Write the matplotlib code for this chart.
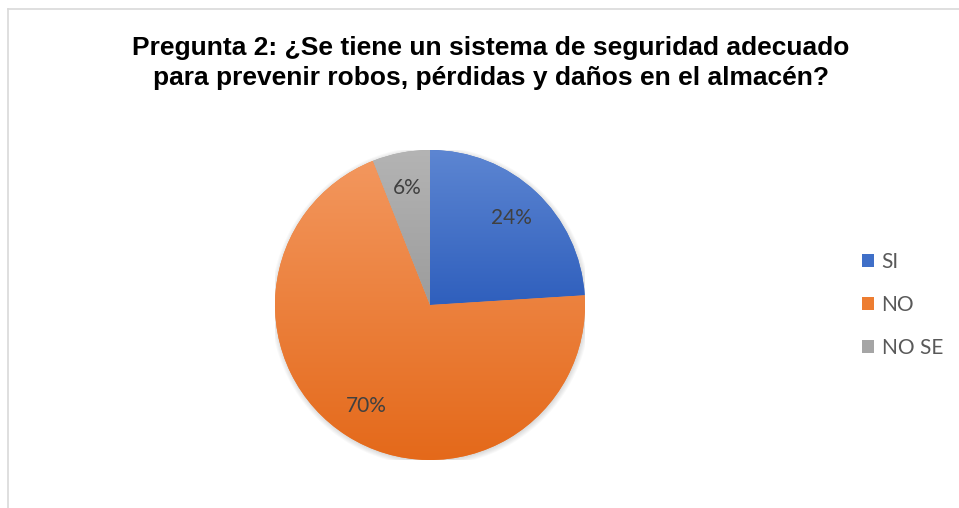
import matplotlib
matplotlib.use("Agg")
import matplotlib.pyplot as plt
import numpy as np
from matplotlib.patches import Patch, Circle
from matplotlib.lines import Line2D
from matplotlib.colors import LinearSegmentedColormap

# survey answers
categories = ["SI", "NO", "NO SE"]
values = [24, 70, 6]
# gradient end colours for each slice (top, bottom)
top_colors = ["#5D86D2", "#F3975E", "#B4B4B4"]
bottom_colors = ["#2F5FBD", "#E4691A", "#9C9C9C"]
legend_colors = ["#3F6FC8", "#ED7D31", "#A5A5A5"]

title = ("Pregunta 2: ¿Se tiene un sistema de seguridad adecuado\n"
         "para prevenir robos, pérdidas y daños en el almacén?")

fig = plt.figure(figsize=(9.59, 5.08), dpi=100)
fig.patch.set_facecolor("white")

# chart frame (top and left edges)
fig.add_artist(Line2D([8 / 959, 1.0], [1 - 9 / 508, 1 - 9 / 508],
                      transform=fig.transFigure, color="#D9D9D9", lw=1.2))
fig.add_artist(Line2D([8 / 959, 8 / 959], [0.0, 1 - 9 / 508],
                      transform=fig.transFigure, color="#D9D9D9", lw=1.2))

fig.text(491 / 959, 1 - 63 / 508, title, ha="center", va="center",
         fontsize=19, fontweight="bold", family="Liberation Sans",
         linespacing=1.3, color="black")

cx, cy, r = 430, 305, 155
ax = fig.add_axes([(cx - r) / 959, (508 - cy - r) / 508, 2 * r / 959, 2 * r / 508])
ax.set_aspect("equal")
ax.axis("off")

# soft shadow under the pie
for k in range(6):
    ax.add_patch(Circle((0.004, -0.008), 1.0 + 0.006 * k, color="black",
                        alpha=0.025, lw=0, zorder=0))

wedges, texts, autotexts = ax.pie(
    values, colors=legend_colors, startangle=90, counterclock=False,
    autopct=lambda p: f"{p:.0f}%", pctdistance=0.77, radius=1.0,
    textprops=dict(fontsize=15, color="#404040", family="Lato"))

# vertical gradient fill clipped to each wedge
grad = np.linspace(0, 1, 256).reshape(-1, 1)
for w, c0, c1 in zip(wedges, top_colors, bottom_colors):
    bb = w.get_path().get_extents()
    cmap = LinearSegmentedColormap.from_list("g", [c0, c1])
    im = ax.imshow(grad, cmap=cmap, aspect="auto", origin="upper",
                   extent=[bb.x0, bb.x1, bb.y0, bb.y1], zorder=2,
                   interpolation="bilinear")
    im.set_clip_path(w)
for t in autotexts:
    t.set_zorder(4)
ax.set_xlim(-1.0, 1.0)
ax.set_ylim(-1.0, 1.0)

handles = [Patch(facecolor=c, edgecolor="none") for c in legend_colors]
fig.legend(handles, categories, loc="center left",
           bbox_to_anchor=(843 / 959, 1 - 305 / 508), frameon=False,
           handlelength=0.6, handleheight=0.6, handletextpad=0.35,
           labelspacing=1.1, prop=dict(family="Lato", size=15),
           labelcolor="#595959")

fig.savefig("out.png", dpi=100)
